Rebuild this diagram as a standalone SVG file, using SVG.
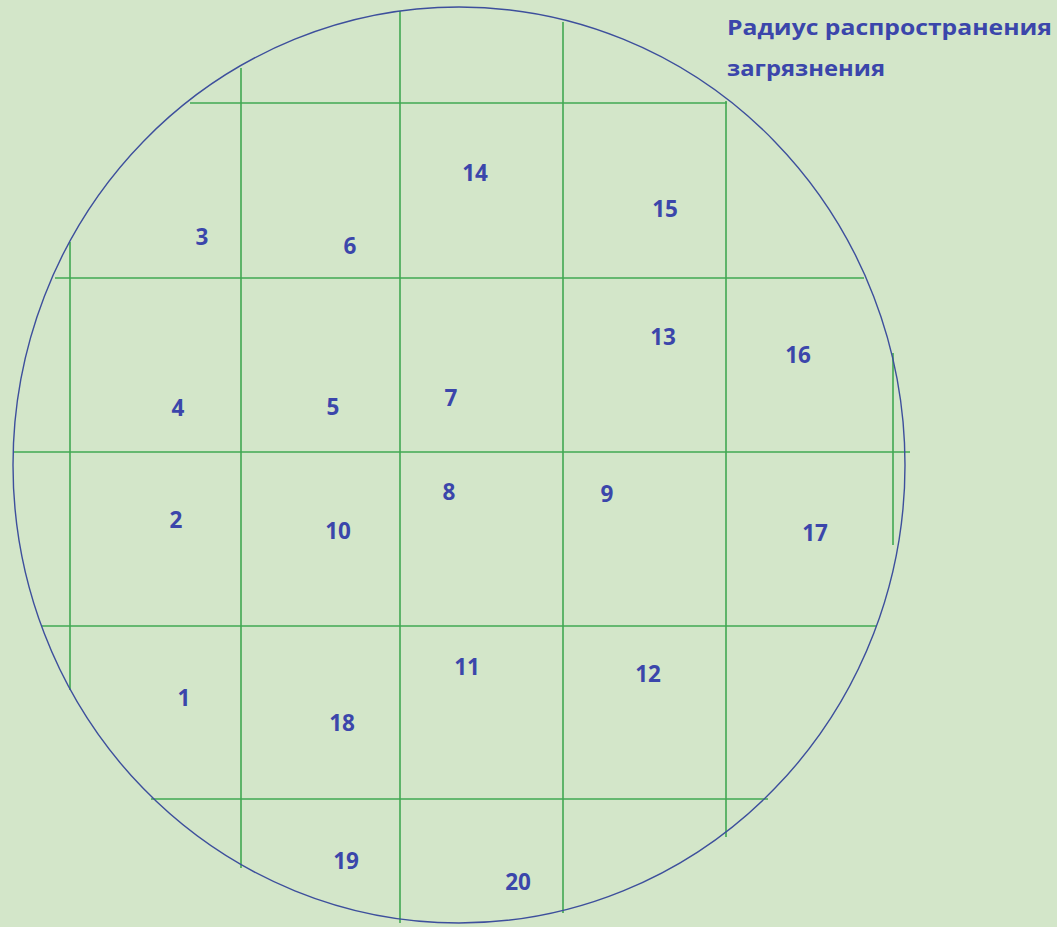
<svg xmlns="http://www.w3.org/2000/svg" width="1057" height="927" viewBox="0 0 1057 927">
<style>
.g{stroke:#41a852;stroke-width:1.6;fill:none}
.c{stroke:#3d4f9c;stroke-width:1.4;fill:none}
.n{font-family:"Open Sans","Liberation Sans",sans-serif;font-weight:bold;font-size:22.5px;fill:#3b46ab;text-anchor:middle}
.t{font-family:"Open Sans","Liberation Sans",sans-serif;font-weight:bold;font-size:21px;fill:#3b46ab}
</style>
<rect width="1057" height="927" fill="#d3e6c9"/>
<g id="connectors">
<line class="g" x1="190" y1="103" x2="727" y2="103"/>
<line class="g" x1="55" y1="278" x2="864" y2="278"/>
<line class="g" x1="13" y1="452" x2="910" y2="452"/>
<line class="g" x1="42" y1="626" x2="877" y2="626"/>
<line class="g" x1="151" y1="799" x2="768" y2="799"/>
<line class="g" x1="70" y1="242" x2="70" y2="690"/>
<line class="g" x1="241" y1="68" x2="241" y2="868"/>
<line class="g" x1="400" y1="11" x2="400" y2="923"/>
<line class="g" x1="563" y1="22" x2="563" y2="913"/>
<line class="g" x1="726" y1="101" x2="726" y2="837"/>
<line class="g" x1="893" y1="353" x2="893" y2="545"/>
</g>
<g id="circle"><ellipse class="c" cx="459" cy="465" rx="446" ry="458"/></g>
<g id="title">
<text class="t" x="727" y="35" textLength="325" lengthAdjust="spacingAndGlyphs">Радиус распространения</text>
<text class="t" x="727" y="76" textLength="158" lengthAdjust="spacingAndGlyphs">загрязнения</text>
</g>
<g id="n3"><text class="n" x="202" y="245">3</text></g>
<g id="n6"><text class="n" x="350" y="254">6</text></g>
<g id="n14"><text class="n" x="475" y="181">14</text></g>
<g id="n15"><text class="n" x="665" y="217">15</text></g>
<g id="n13"><text class="n" x="663" y="345">13</text></g>
<g id="n16"><text class="n" x="798" y="363">16</text></g>
<g id="n4"><text class="n" x="178" y="416">4</text></g>
<g id="n5"><text class="n" x="333" y="415">5</text></g>
<g id="n7"><text class="n" x="451" y="406">7</text></g>
<g id="n8"><text class="n" x="449" y="500">8</text></g>
<g id="n9"><text class="n" x="607" y="502">9</text></g>
<g id="n2"><text class="n" x="176" y="528">2</text></g>
<g id="n10"><text class="n" x="338" y="539">10</text></g>
<g id="n17"><text class="n" x="815" y="541">17</text></g>
<g id="n1"><text class="n" x="184" y="706">1</text></g>
<g id="n11"><text class="n" x="467" y="675">11</text></g>
<g id="n12"><text class="n" x="648" y="682">12</text></g>
<g id="n18"><text class="n" x="342" y="731">18</text></g>
<g id="n19"><text class="n" x="346" y="869">19</text></g>
<g id="n20"><text class="n" x="518" y="890">20</text></g>
</svg>
